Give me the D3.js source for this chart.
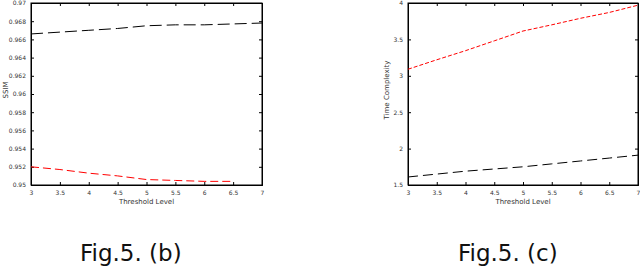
<!DOCTYPE html>
<html>
<head>
<meta charset="utf-8">
<script src="https://cdn.jsdelivr.net/npm/d3@7"></script>
<style>
  body { margin: 0; background: #fff; }
  svg { display: block; }
  text { font-family: "DejaVu Sans", sans-serif; }
</style>
</head>
<body>
<script>
// threshold levels shared by both panels
var thresholds = [3, 3.5, 4, 4.5, 5, 5.5, 6, 6.5, 7];

// panel (b): SSIM
var ssimBlack = [0.9666, 0.9668, 0.9670, 0.9672, 0.9675, 0.9676, 0.9676, 0.9677, 0.9678];
var ssimRed   = [0.9520, 0.9517, 0.9513, 0.9510, 0.9506, 0.9505, 0.9504, 0.9504];
var ssimTicks = [0.95, 0.952, 0.954, 0.956, 0.958, 0.96, 0.962, 0.964, 0.966, 0.968, 0.97];

// panel (c): time complexity
var timeRed   = [3.09, 3.22, 3.345, 3.48, 3.615, 3.70, 3.79, 3.87, 3.97];
var timeBlack = [1.61, 1.65, 1.69, 1.72, 1.75, 1.79, 1.83, 1.87, 1.91];
var timeTicks = [1.5, 2, 2.5, 3, 3.5, 4];

var xTicks = [3, 3.5, 4, 4.5, 5, 5.5, 6, 6.5, 7];

var W = 640, H = 268;
var svg = d3.select("body").append("svg")
    .attr("width", W)
    .attr("height", H);

function panel(opt){
    var x = d3.scaleLinear().domain([3, 7]).range([opt.left, opt.right]);
    var y = d3.scaleLinear().domain(opt.yDomain).range([185, 3]);
    var g = svg.append("g");

    // box
    g.append("rect")
        .attr("x", opt.left).attr("y", 3)
        .attr("width", opt.right - opt.left).attr("height", 182)
        .attr("fill", "none").attr("stroke", "#000").attr("stroke-width", 1);

    // axes with inward ticks (matlab style)
    var fmt = function(d){ return String(d); };
    g.append("g").attr("transform", "translate(0,185)")
        .call(d3.axisBottom(x).tickValues(xTicks).tickSize(-3).tickPadding(6).tickFormat(fmt));
    g.append("g").attr("transform", "translate(0,3)")
        .call(d3.axisTop(x).tickValues(xTicks).tickSize(-3).tickFormat(""));
    g.append("g").attr("transform", "translate(" + opt.left + ",0)")
        .call(d3.axisLeft(y).tickValues(opt.yTicks).tickSize(-3).tickPadding(5).tickFormat(fmt));
    g.append("g").attr("transform", "translate(" + opt.right + ",0)")
        .call(d3.axisRight(y).tickValues(opt.yTicks).tickSize(-3).tickFormat(""));

    g.selectAll(".domain").attr("stroke", "#000");
    g.selectAll(".tick line").attr("stroke", "#000");
    g.selectAll(".tick text").attr("font-size", 6).attr("fill", "#333")
        .attr("font-family", "DejaVu Sans, sans-serif");

    var line = d3.line().x(function(d){ return x(d[0]); }).y(function(d){ return y(d[1]); });

    opt.series.forEach(function(s){
        var pts = s.values.map(function(v, i){ return [thresholds[i], v]; });
        g.append("path")
            .attr("d", line(pts))
            .attr("fill", "none")
            .attr("stroke", s.color)
            .attr("stroke-width", 1)
            .attr("stroke-dasharray", s.dash);
    });

    // axis labels
    g.append("text")
        .attr("x", (opt.left + opt.right) / 2).attr("y", 204)
        .attr("text-anchor", "middle").attr("font-size", 7).attr("fill", "#333")
        .text("Threshold Level");
    g.append("text")
        .attr("transform", "translate(" + opt.yLabelX + ",90) rotate(-90)")
        .attr("text-anchor", "middle").attr("font-size", 7).attr("fill", "#333")
        .text(opt.yLabel);

    // caption
    svg.append("text")
        .attr("x", opt.captionX).attr("y", 261)
        .attr("font-size", 23).attr("fill", "#111")
        .text(opt.caption);
}

panel({
    left: 31, right: 262,
    yDomain: [0.95, 0.97], yTicks: ssimTicks,
    yLabel: "SSIM", yLabelX: 8,
    caption: "Fig.5. (b)", captionX: 80,
    series: [
        { values: ssimBlack, color: "#000", dash: "12,5" },
        { values: ssimRed, color: "#f00", dash: "8,4" }
    ]
});

panel({
    left: 408, right: 638,
    yDomain: [1.5, 4], yTicks: timeTicks,
    yLabel: "Time Complexity", yLabelX: 389,
    caption: "Fig.5. (c)", captionX: 458,
    series: [
        { values: timeRed, color: "#f00", dash: "4,2" },
        { values: timeBlack, color: "#000", dash: "10,5" }
    ]
});
</script>
</body>
</html>
